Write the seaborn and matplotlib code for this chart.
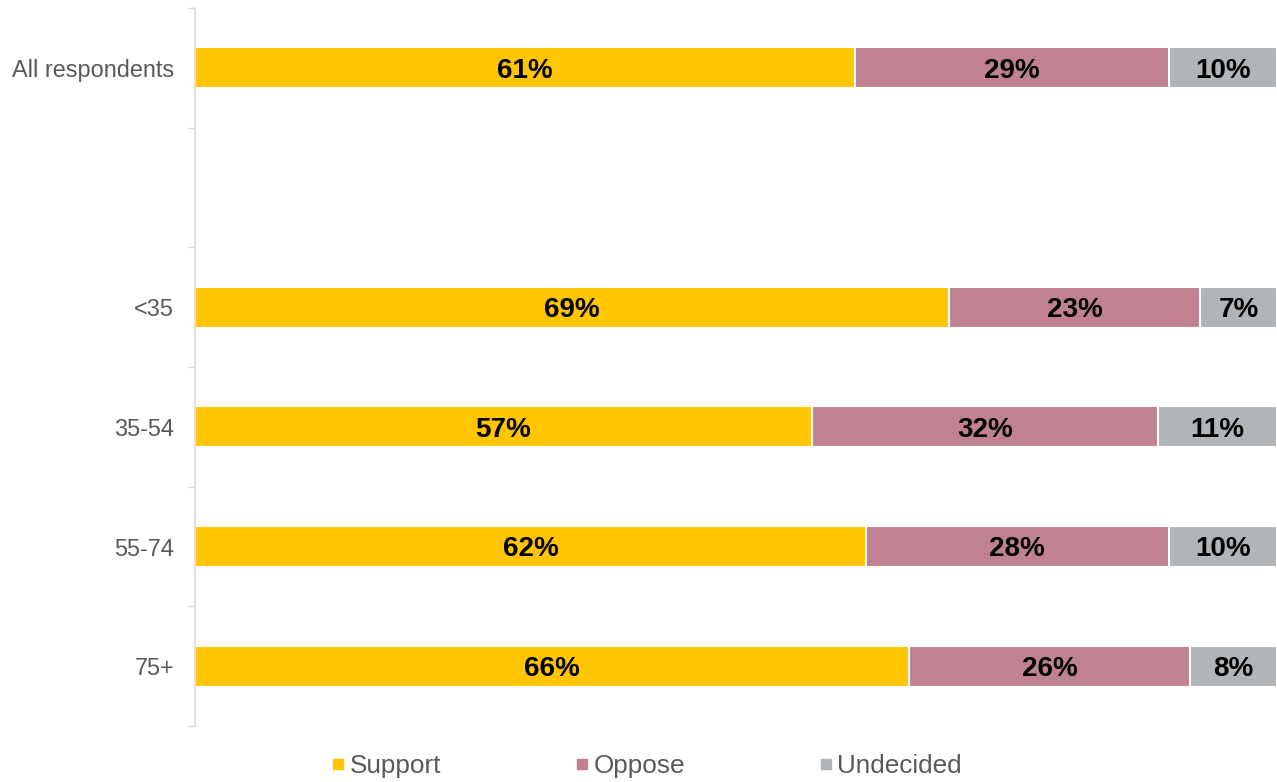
import numpy as np
import pandas as pd
import matplotlib
matplotlib.use("Agg")
import matplotlib.pyplot as plt
from matplotlib.lines import Line2D
import seaborn as sns

# Survey responses by age group (percent)
groups = ["All respondents", "<35", "35-54", "55-74", "75+"]
support = [61, 69, 57, 62, 66]
oppose = [29, 23, 32, 28, 26]
undecided = [10, 7, 11, 10, 8]

series_names = ["Support", "Oppose", "Undecided"]
colors = {"Support": "#FFC600", "Oppose": "#C08290", "Undecided": "#B1B5B8"}

# Category slots on the axis, with an empty gap after the overall row
slot_order = ["All respondents", " ", "<35", "35-54", "55-74", "75+"]

sns.set_theme(style="white")
plt.rcParams["font.family"] = ["Liberation Sans", "DejaVu Sans"]

df = pd.DataFrame({"group": groups, "Support": support,
                   "Oppose": oppose, "Undecided": undecided})
total = df[series_names].sum(axis=1)
# 100% stacked: each segment as a share of its row total
for s in series_names:
    df[s + "_share"] = df[s] / total * 100
df["cum_S"] = df["Support_share"]
df["cum_O"] = df["cum_S"] + df["Oppose_share"]
df["cum_U"] = df["cum_O"] + df["Undecided_share"]

fig = plt.figure(figsize=(12.77, 7.82), dpi=100)
ax = fig.add_axes([195 / 1277, 1 - 726 / 782, 1 - 195 / 1277, (726 - 8) / 782])

bar_w = 0.34
# draw cumulative extents back to front so each segment shows its own share
for col, name in [("cum_U", "Undecided"), ("cum_O", "Oppose"), ("cum_S", "Support")]:
    sns.barplot(data=df, x=col, y="group", order=slot_order, orient="h",
                color=colors[name], width=bar_w, edgecolor="white",
                linewidth=1.5, ax=ax, saturation=1)

# value labels centred in each segment
pos = {g: i for i, g in enumerate(slot_order)}
for _, row in df.iterrows():
    y = pos[row["group"]]
    left = 0.0
    for s in series_names:
        w = row[s + "_share"]
        ax.text(left + w / 2, y, f"{row[s]}%", ha="center", va="center_baseline",
                fontsize=20, fontweight="bold", color="black")
        left += w

ax.set_xlim(0, 100)
ax.set_ylim(len(slot_order) - 0.5, -0.5)
ax.set_xlabel("")
ax.set_ylabel("")
ax.set_xticks([])
ax.set_yticks(range(len(slot_order)))
ax.set_yticklabels([g.strip() for g in slot_order])
ax.set_yticks(np.arange(-0.5, len(slot_order), 1.0), minor=True)
ax.tick_params(axis="y", which="major", length=0, pad=15, labelsize=16.9,
               labelcolor="#595959")
ax.tick_params(axis="y", which="minor", left=True, length=5, width=1,
               color="#D9D9D9", direction="out")
for side in ["top", "right", "bottom"]:
    ax.spines[side].set_visible(False)
ax.spines["left"].set_color("#D9D9D9")
ax.spines["left"].set_linewidth(1.2)

handles = [Line2D([], [], marker="s", linestyle="none", markersize=7.5,
                  markerfacecolor=colors[n], markeredgecolor=colors[n])
           for n in series_names]
fig.legend(handles, series_names, loc="center", bbox_to_anchor=(645 / 1277, 1 - 766 / 782),
           ncol=3, frameon=False, fontsize=18.8, handletextpad=0.05,
           columnspacing=4.98, handlelength=0.8, labelcolor="#595959")

fig.savefig("out.png", dpi=100)
